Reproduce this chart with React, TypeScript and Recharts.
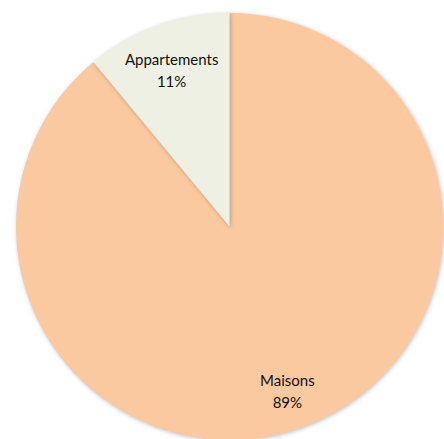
import { PieChart, Pie, Cell } from "recharts";

const categories = ["Maisons", "Appartements"];
const shares = [89, 11];
const COLORS = ["#FAC9A0", "#EEF0E4"];

const data = categories.map((name, i) => ({ name, value: shares[i] }));

const RADIAN = Math.PI / 180;

function renderLabel(props: any) {
  const { cx, cy, midAngle, outerRadius, name, value } = props;
  const r = outerRadius * 0.8;
  const x = cx + r * Math.cos(-midAngle * RADIAN);
  const y = cy + r * Math.sin(-midAngle * RADIAN);
  return (
    <text x={x} y={y} textAnchor="middle" fill="#111" fontSize={15} fontFamily="Lato, 'Open Sans', sans-serif">
      <tspan x={x} dy={-1}>{name}</tspan>
      <tspan x={x} dy={22}>{value}%</tspan>
    </text>
  );
}

export default function App() {
  return (
    <div style={{ position: "fixed", left: 0, top: 0, width: 444, height: 439, background: "#fff" }}>
      <style>{`.recharts-pie-sector { filter: drop-shadow(1px 1px 2px rgba(0,0,0,0.25)); }`}</style>
      <PieChart width={444} height={439} margin={{ top: 0, right: 0, bottom: 0, left: 0 }}>
        <Pie
          data={data}
          dataKey="value"
          nameKey="name"
          cx={229.5}
          cy={226.5}
          outerRadius={213.5}
          startAngle={90}
          endAngle={-270}
          stroke="none"
          label={renderLabel}
          labelLine={false}
          isAnimationActive={false}
        >
          {data.map((entry, index) => (
            <Cell key={`cell-${index}`} fill={COLORS[index % COLORS.length]} />
          ))}
        </Pie>
      </PieChart>
    </div>
  );
}
